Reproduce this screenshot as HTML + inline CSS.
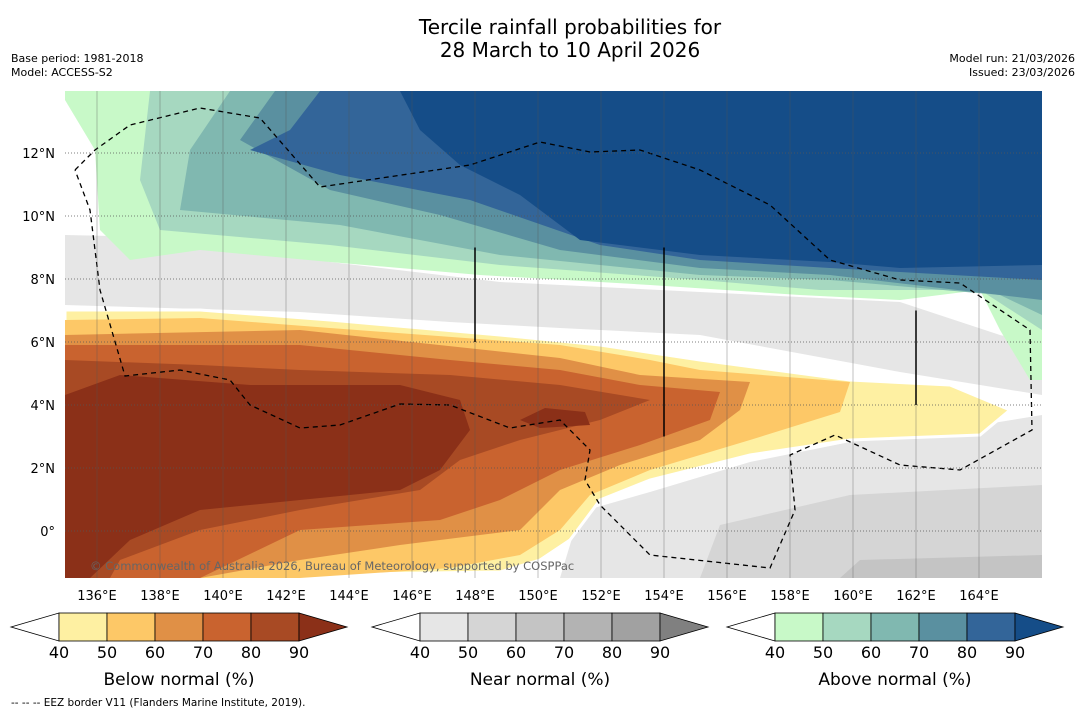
<!DOCTYPE html>
<html><head><meta charset="utf-8"><style>
body{margin:0;background:#fff;font-family:"DejaVu Sans",sans-serif}
svg{display:block}
</style></head><body>
<svg id="s" width="1085" height="713" viewBox="0 0 1085 713" xmlns="http://www.w3.org/2000/svg" font-family="DejaVu Sans, sans-serif">
<text x="570" y="34" font-size="20" text-anchor="middle">Tercile rainfall probabilities for</text>
<text x="570" y="57" font-size="20" text-anchor="middle">28 March to 10 April 2026</text>
<text x="11" y="62" font-size="11">Base period: 1981-2018</text>
<text x="11" y="76" font-size="11">Model: ACCESS-S2</text>
<text x="1075" y="62" font-size="11" text-anchor="end">Model run: 21/03/2026</text>
<text x="1075" y="76" font-size="11" text-anchor="end">Issued: 23/03/2026</text>
<defs><clipPath id="mc"><rect x="65" y="91" width="977" height="487"/></clipPath></defs>
<g id="map" clip-path="url(#mc)"><rect x="65" y="91" width="977" height="487" fill="#fff"/></g>
<g id="grid"></g>
<g id="axes"></g>
<text x="90" y="570" font-size="11.5" fill="#666">© Commonwealth of Australia 2026, Bureau of Meteorology, supported by COSPPac</text>
<g id="cbars"></g>
<text x="11" y="706" font-size="10.5">--  --  -- EEZ border V11 (Flanders Marine Institute, 2019).</text>
</svg>
<script>
const NS="http://www.w3.org/2000/svg";
const lonTicks=[136,138,140,142,144,146,148,150,152,154,156,158,160,162,164];
const latTicks=[0,2,4,6,8,10,12];
const levels=[40,50,60,70,80,90];
const belowColors=["#fef0a2","#fdc867","#e09046","#c9632f","#a84a24","#8b3018"];
const nearColors=["#e6e6e6","#d5d5d5","#c4c4c4","#b3b3b3","#a1a1a1","#808080"];
const aboveColors=["#c8f9c8","#a6d8c0","#80b8b0","#5a90a0","#336599","#154d88"];
const X=lon=>97+(lon-136)*31.5, Y=lat=>531-lat*31.5;
function el(t,a,p){const e=document.createElementNS(NS,t);for(const k in a)e.setAttribute(k,a[k]);p.appendChild(e);return e;}
const map=document.getElementById('map');
const aboveShapes=[
[[65,91],[1042,91],[1042,380],[1030,380],[1000,330],[980,290],[900,300],[800,295],[650,285],[480,275],[330,262],[200,250],[130,260],[100,230],[95,150],[65,100]],
[[150,91],[1042,91],[1042,330],[980,290],[820,290],[700,280],[500,265],[330,245],[160,230],[140,180]],
[[230,91],[1042,91],[1042,315],[1000,295],[830,280],[700,275],[500,255],[340,225],[180,210],[190,150]],
[[275,91],[1042,91],[1042,300],[830,275],[700,268],[560,250],[440,215],[330,190],[240,140]],
[[320,91],[1042,91],[1042,280],[830,268],[700,260],[600,245],[470,200],[340,175],[250,150],[290,130]],
[[400,91],[1042,91],[1042,265],[900,268],[830,262],[700,255],[580,240],[520,195],[460,165],[420,130]]];
const nearShapes=[
[[65,235],[200,238],[330,262],[500,282],[700,292],[900,302],[1000,335],[1042,345],[1042,395],[900,372],[700,335],[560,328],[450,322],[300,312],[65,305]],
[[560,578],[580,512],[650,492],[750,462],[850,442],[950,430],[1042,415],[1042,578]],
[[700,578],[720,525],[850,495],[1042,485],[1042,578]],
[[840,578],[860,560],[1042,555],[1042,578]]];
const belowShapes=[
[[65,310],[200,310],[330,320],[500,335],[600,345],[700,360],[850,380],[950,385],[1010,410],[980,435],[850,440],[750,455],[650,480],[600,500],[570,540],[540,560],[500,572],[65,578]],
[[65,320],[200,318],[330,328],[560,345],[650,360],[700,370],[850,382],[840,412],[750,440],[650,470],[590,495],[560,530],[520,555],[450,568],[300,578],[65,578]],
[[65,335],[300,330],[560,358],[640,375],[750,382],[740,410],[700,440],[620,465],[560,490],[520,530],[400,545],[300,560],[200,578],[65,578]],
[[65,345],[300,345],[450,360],[560,370],[640,385],[720,392],[710,420],[640,445],[560,470],[500,500],[440,520],[300,530],[200,578],[65,578]],
[[65,360],[200,365],[300,370],[450,375],[560,385],[650,400],[600,420],[520,440],[460,460],[420,490],[300,510],[200,530],[120,560],[110,578],[65,578]],
[[65,395],[120,375],[250,385],[400,385],[460,400],[470,430],[440,470],[400,490],[300,500],[200,510],[130,540],[90,578],[65,578]],
[[520,420],[545,408],[585,412],[590,425],[540,428]]];
const pts=a=>a.map(p=>p.join(',')).join(' ');
nearShapes.forEach((s,i)=>{const p=el('polygon',{points:pts(s),fill:nearColors[i==0?0:i-1]},map);

});
aboveShapes.forEach((s,i)=>{const p=el('polygon',{points:pts(s),fill:aboveColors[i]},map);

});
belowShapes.forEach((s,i)=>{const p=el('polygon',{points:pts(s),fill:belowColors[Math.min(i,5)],stroke:i==0?'#fff':'none','stroke-width':3},map);

});
const eez=[[75,170],[95,150],[130,125],[200,108],[260,118],[320,187],[470,165],[540,142],[590,152],[640,150],[700,170],[770,205],[830,260],[900,280],[960,283],[1030,330],[1032,430],[960,470],[900,465],[835,435],[790,455],[795,510],[770,568],[650,555],[600,505],[585,480],[590,450],[560,420],[510,428],[450,405],[400,404],[340,425],[300,428],[250,405],[230,380],[180,370],[125,376],[100,290],[90,210],[75,170]];
const e=el('polyline',{points:pts(eez),fill:'none',stroke:'#000','stroke-width':1.3,'stroke-dasharray':'5,4'},map);


const grid=document.getElementById('grid'),axes=document.getElementById('axes');
lonTicks.forEach(l=>{el('line',{x1:X(l),x2:X(l),y1:91,y2:578,stroke:'#555','stroke-width':0.6,'stroke-opacity':0.6},grid);
const t=el('text',{x:X(l),y:600,'font-size':13,'text-anchor':'middle'},axes);t.textContent=l+'°E';

});
latTicks.forEach(l=>{el('line',{x1:65,x2:1042,y1:Y(l),y2:Y(l),stroke:'#555','stroke-width':0.7,'stroke-dasharray':'1,2'},grid);
const t=el('text',{x:55,y:Y(l)+5,'font-size':13,'text-anchor':'end'},axes);t.textContent=l==0?'0°':l+'°N';

});
[[148,9,6],[154,9,3],[162,7,4]].forEach(v=>el('line',{x1:X(v[0]),x2:X(v[0]),y1:Y(v[1]),y2:Y(v[2]),stroke:'#000','stroke-width':1.5},grid));
const cb=document.getElementById('cbars');
[[11,belowColors,'Below normal (%)'],[372,nearColors,'Near normal (%)'],[727,aboveColors,'Above normal (%)']].forEach(([x0,cols,title],k)=>{
 const g=el('g',{},cb);
 
 
 const s=x0+48,y0=613,h=28;
 el('polygon',{points:`${x0},${y0+h/2} ${s},${y0} ${s},${y0+h}`,fill:'#fff',stroke:'#000','stroke-width':0.8},g);
 for(let i=0;i<5;i++)el('rect',{x:s+i*48,y:y0,width:48,height:h,fill:cols[i],stroke:'#000','stroke-width':0.8},g);
 el('polygon',{points:`${s+240},${y0} ${s+288},${y0+h/2} ${s+240},${y0+h}`,fill:cols[5],stroke:'#000','stroke-width':0.8},g);
 levels.forEach((v,i)=>{const t=el('text',{x:s+i*48,y:658,'font-size':16,'text-anchor':'middle'},g);t.textContent=v;});
 const t=el('text',{x:s+120,y:685,'font-size':17,'text-anchor':'middle'},g);t.textContent=title;
});
</script>
</body></html>
